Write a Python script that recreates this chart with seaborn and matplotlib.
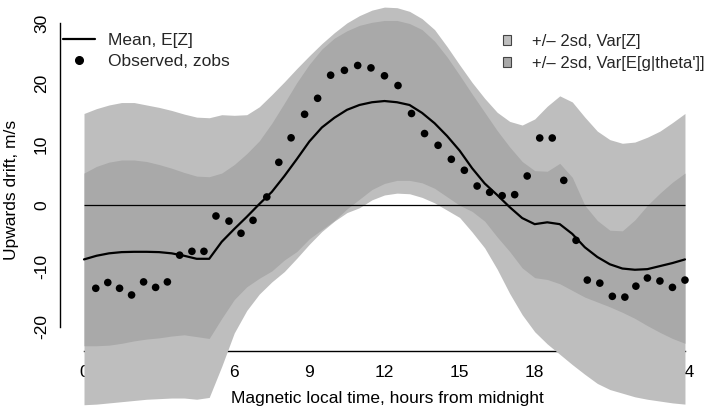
import matplotlib
matplotlib.use("Agg")
import matplotlib.pyplot as plt
import seaborn as sns
from matplotlib.lines import Line2D
from matplotlib.patches import Patch

# ---- data ----
hours = [0, 0.5, 1, 1.5, 2, 2.5, 3, 3.5, 4, 4.5, 5, 5.5, 6, 6.5, 7, 7.5, 8, 8.5, 9, 9.5,
         10, 10.5, 11, 11.5, 12, 12.5, 13, 13.5, 14, 14.5, 15, 15.5, 16, 16.5, 17, 17.5,
         18, 18.5, 19, 19.5, 20, 20.5, 21, 21.5, 22, 22.5, 23, 23.5, 24]

mean_z = [-8.9, -8.3, -7.9, -7.7, -7.65, -7.65, -7.7, -7.9, -8.3, -8.8, -8.8, -6.0, -3.9, -1.9,
          0.2, 2.2, 4.8, 7.6, 10.5, 12.8, 14.4, 15.7, 16.5, 16.95, 17.15, 16.95, 16.5, 15.2,
          13.5, 11.4, 9.0, 6.1, 3.6, 1.7, -0.3, -2.1, -3.1, -2.8, -3.1, -4.7, -6.9, -8.5,
          -9.7, -10.4, -10.6, -10.5, -10.0, -9.5, -8.9]

var_z_upper = [15.1, 15.9, 16.5, 16.9, 16.9, 16.5, 16.1, 15.6, 15.0, 14.5, 14.4, 14.9, 14.8,
               14.9, 16.2, 18.2, 20.3, 22.5, 24.6, 26.6, 28.4, 30.0, 31.2, 32.1, 32.6, 32.5,
               31.9, 30.7, 28.9, 26.1, 23.1, 20.2, 17.6, 15.3, 13.8, 13.2, 14.2, 16.3, 18.0,
               17.0, 14.5, 12.2, 10.8, 10.2, 10.4, 11.2, 12.2, 13.6, 15.1]
var_z_lower = [-32.8, -32.7, -32.5, -32.3, -32.1, -31.9, -31.8, -31.7, -31.7, -31.9, -31.6,
               -26.5, -21.0, -17.3, -14.6, -12.6, -10.9, -8.7, -6.4, -4.3, -2.6, -1.2, -0.4,
               0.9, 1.7, 2.0, 1.9, 1.3, 0.4, -0.8, -2.0, -4.4, -7.0, -10.5, -14.5, -18.0,
               -20.8, -22.8, -24.5, -26.2, -27.8, -29.3, -30.3, -30.9, -31.5, -31.9, -32.2,
               -32.5, -32.7]

var_eg_upper = [5.3, 6.4, 7.1, 7.45, 7.45, 7.2, 6.7, 6.1, 5.4, 4.8, 4.7, 5.3, 6.7, 8.5, 10.6,
                13.5, 16.8, 20.2, 23.2, 25.7, 27.5, 28.7, 29.6, 30.1, 30.4, 30.4, 29.9, 28.9,
                27.0, 24.4, 21.4, 18.3, 15.3, 12.3, 9.6, 7.2, 5.7, 5.6, 6.9, 4.6, 0.0, -2.5,
                -4.1, -4.2, -2.4, 0.0, 2.0, 3.8, 5.3]
var_eg_lower = [-23.1, -23.1, -23.0, -22.7, -22.3, -22.0, -21.8, -21.5, -21.3, -21.6, -21.9,
                -18.6, -15.5, -13.4, -12.0, -10.8, -9.0, -7.6, -5.5, -4.0, -2.5, -0.6, 1.0,
                2.6, 3.6, 4.1, 4.1, 3.7, 2.8, 1.4, 0.0, -1.0, -2.6, -5.2, -7.6, -10.3, -11.9,
                -12.2, -12.9, -14.0, -15.1, -15.9, -16.7, -17.6, -18.6, -19.8, -20.9, -21.9,
                -22.7]

obs_hours = [0.47, 0.95, 1.42, 1.90, 2.38, 2.86, 3.33, 3.82, 4.31, 4.79, 5.27, 5.79, 6.27,
             6.75, 7.30, 7.78, 8.27, 8.81, 9.33, 9.85, 10.40, 10.93, 11.46, 12.00, 12.54,
             13.08, 13.60, 14.14, 14.67, 15.19, 15.70, 16.20, 16.70, 17.20, 17.70, 18.20,
             18.70, 19.16, 19.65, 20.10, 20.60, 21.10, 21.60, 22.04, 22.50, 23.00, 23.50, 24.00]
obs_z = [-13.65, -12.7, -13.65, -14.75, -12.6, -13.5, -12.6, -8.2, -7.57, -7.57, -1.76, -2.6,
         -4.6, -2.47, 1.37, 7.07, 11.1, 14.97, 17.6, 21.4, 22.2, 23.0, 22.6, 21.3, 19.7, 15.1,
         11.8, 9.87, 7.57, 5.76, 3.17, 2.14, 1.58, 1.75, 4.82, 11.07, 11.07, 4.1, -5.76,
         -12.3, -12.8, -14.97, -15.1, -13.3, -11.96, -12.45, -13.5, -12.3]

x_ticks = [0, 3, 6, 9, 12, 15, 18, 21, 24]
y_ticks = [-20, -10, 0, 10, 20, 30]

xlabel = "Magnetic local time, hours from midnight"
ylabel = "Upwards drift, m/s"
line_labels = ["Mean, E[Z]", "Observed, zobs"]
band_labels = ["+/\u2013 2sd, Var[Z]", "+/\u2013 2sd, Var[E[g|theta']]"]

LIGHT = "#BEBEBE"
DARK = "#A9A9A9"

# ---- style ----
sns.set_style("white")
plt.rcParams["font.family"] = ["Liberation Sans", "DejaVu Sans"]

W, H = 710, 409
fig = plt.figure(figsize=(W / 100, H / 100), dpi=100)
ax = fig.add_axes([0, 0, 1, 1])
ax.set_facecolor("none")

# pixel mapping: x=0 at px 84, 25.04 px/hour; y=0 at px 205.3, 6.08 px/unit
ax.set_xlim(-84 / 25.04, (W - 84) / 25.04)
ax.set_ylim(-(H - 205.3) / 6.08, 205.3 / 6.08)

# axes
for s in ["top", "right"]:
    ax.spines[s].set_visible(False)
ax.spines["left"].set_position(("data", (60 - 84) / 25.04))
ax.spines["bottom"].set_position(("data", (205.3 - 351) / 6.08))
ax.spines["left"].set_bounds(y_ticks[0], y_ticks[-1])
ax.spines["bottom"].set_bounds(x_ticks[0], x_ticks[-1])
for s in ["left", "bottom"]:
    ax.spines[s].set_color("black")
    ax.spines[s].set_linewidth(1.0)
    ax.spines[s].set_zorder(1)

ax.set_xticks(x_ticks)
ax.set_yticks(y_ticks)
ax.set_xticklabels([str(v) for v in x_ticks])
ax.set_yticklabels([str(v) for v in y_ticks])
ax.tick_params(axis="both", direction="in", length=8.6, width=1.0, color="black",
               labelsize=12.5, labelcolor="black")
ax.tick_params(axis="x", pad=10)
ax.tick_params(axis="y", pad=8)
for lab in ax.get_yticklabels():
    lab.set_rotation(90)
    lab.set_va("center")
    lab.set_ha("right")
ax.xaxis.set_zorder(1)
ax.yaxis.set_zorder(1)

# bands (drawn over the axes like base R polygons)
ax.fill_between(hours, var_z_lower, var_z_upper, color=LIGHT, lw=0, zorder=3, clip_on=False)
ax.fill_between(hours, var_eg_lower, var_eg_upper, color=DARK, lw=0, zorder=3.1, clip_on=False)
ax.hlines(0, hours[0], hours[-1], color="black", lw=0.9, zorder=4)

sns.lineplot(x=hours, y=mean_z, ax=ax, color="black", lw=1.6, zorder=5, legend=False)
sns.scatterplot(x=obs_hours, y=obs_z, ax=ax, color="black", s=30, edgecolor="none",
                zorder=6, legend=False)

ax.set_xlabel(xlabel, fontsize=12.5, color="black")
ax.set_ylabel(ylabel, fontsize=12.5, color="black")
ax.xaxis.set_label_coords(387 / W, 1 - 398 / H)
ax.yaxis.set_label_coords(12 / W, 1 - 190 / H)
ax.xaxis.label.set_va("center")
ax.yaxis.label.set_va("center")

# legends
h1 = [Line2D([], [], color="black", lw=1.6),
      Line2D([], [], marker="o", color="black", ls="none", markersize=5.5)]
leg1 = ax.legend(h1, line_labels, loc="upper left", bbox_to_anchor=(63 / W, 1 - 33 / H),
                 frameon=False, fontsize=12.5, handlelength=1.84, handletextpad=0.75,
                 labelspacing=0.32, borderpad=0, borderaxespad=0)
leg1.set_zorder(10)
ax.add_artist(leg1)

h2 = [Patch(facecolor=LIGHT, edgecolor="#444444", lw=0.8),
      Patch(facecolor=DARK, edgecolor="#444444", lw=0.8)]
leg2 = ax.legend(h2, band_labels, loc="upper left", bbox_to_anchor=(503 / W, 1 - 34 / H),
                 frameon=False, fontsize=12, handlelength=0.5, handleheight=0.5,
                 handletextpad=1.25, labelspacing=0.42, borderpad=0, borderaxespad=0)
leg2.set_zorder(10)

fig.savefig("out.png", dpi=100)
